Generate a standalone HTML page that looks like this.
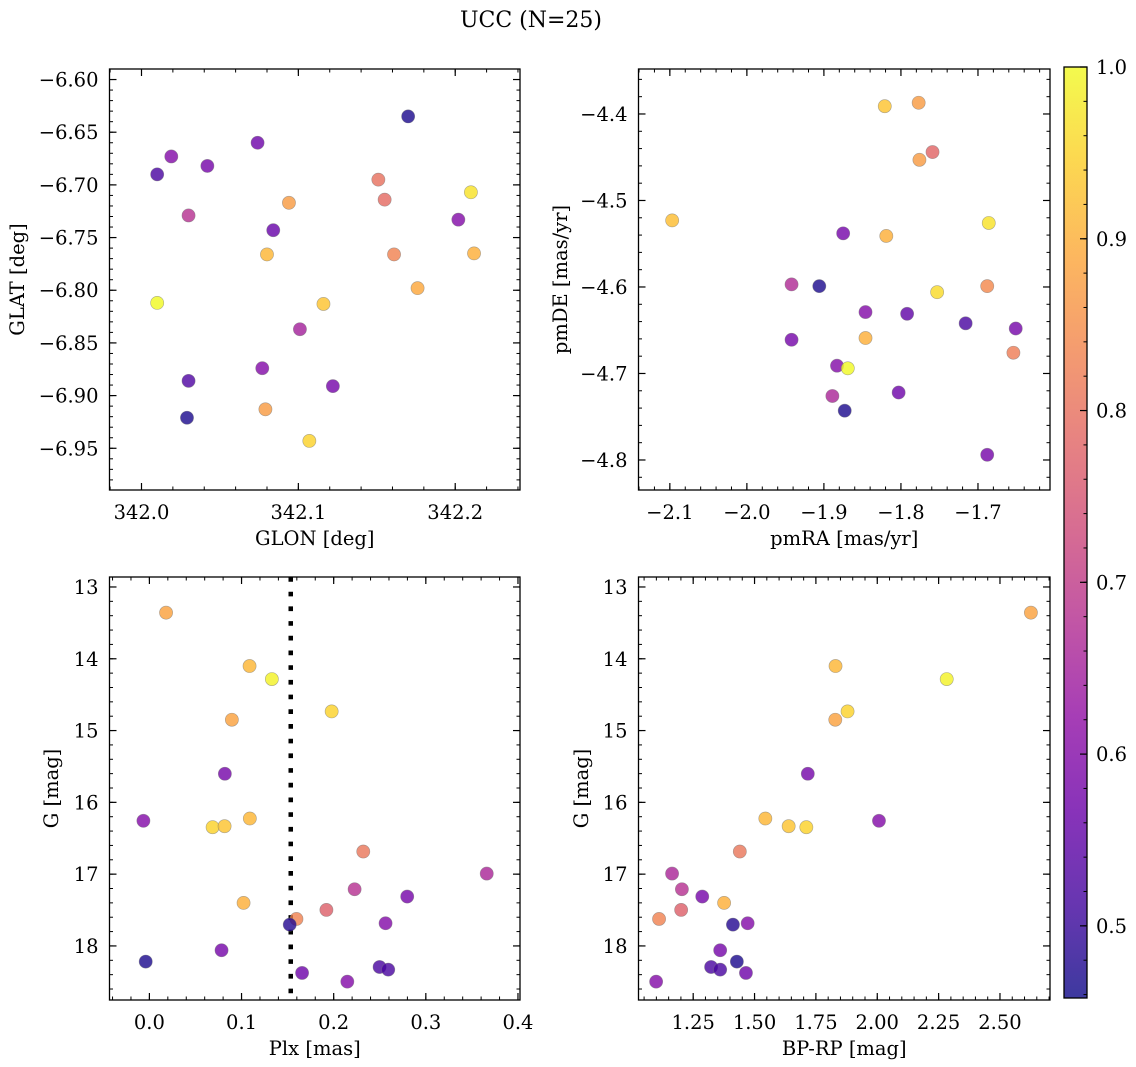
<!DOCTYPE html>
<html><head><meta charset="utf-8">
<style>
html,body{margin:0;padding:0;background:#fff;}
svg{display:block;font-family:"DejaVu Serif","Liberation Serif",serif;}
</style></head>
<body>
<svg id="fig" width="1136" height="1067" viewBox="0 0 1136 1067" xmlns="http://www.w3.org/2000/svg">
<text x="531" y="27" font-size="22" text-anchor="middle">UCC (N=25)</text>
</svg>
<script>
// ---- data: panel 1 (GLON / GLAT) ----
const glon = [342.170,342.074,342.019,342.042,342.010,342.151,342.155,342.210,342.094,342.030,342.084,342.202,342.080,342.161,342.212,342.176,342.010,342.116,342.101,342.077,342.030,342.122,342.079,342.029,342.107];
const glat = [-6.635,-6.660,-6.673,-6.682,-6.690,-6.695,-6.714,-6.707,-6.717,-6.729,-6.743,-6.733,-6.766,-6.766,-6.765,-6.798,-6.812,-6.813,-6.837,-6.874,-6.886,-6.891,-6.913,-6.921,-6.943];
const prob1 = [0.47,0.57,0.60,0.58,0.52,0.80,0.79,0.97,0.87,0.68,0.56,0.60,0.91,0.83,0.90,0.89,1.00,0.93,0.65,0.60,0.53,0.58,0.87,0.47,0.95];
// ---- data: panel 2 (pmRA / pmDE) ----
const pmra = [-1.821,-1.777,-1.759,-1.776,-2.097,-1.686,-1.875,-1.819,-1.942,-1.906,-1.688,-1.753,-1.846,-1.792,-1.716,-1.651,-1.942,-1.846,-1.654,-1.883,-1.869,-1.889,-1.803,-1.873,-1.688];
const pmde = [-4.391,-4.387,-4.444,-4.453,-4.523,-4.526,-4.538,-4.541,-4.597,-4.599,-4.599,-4.606,-4.629,-4.631,-4.642,-4.648,-4.661,-4.659,-4.676,-4.691,-4.694,-4.726,-4.722,-4.743,-4.794];
const prob2 = [0.93,0.87,0.78,0.87,0.92,0.97,0.58,0.90,0.67,0.47,0.84,0.96,0.60,0.55,0.52,0.58,0.58,0.90,0.82,0.60,1.00,0.66,0.57,0.47,0.58];
// ---- data: panels 3 & 4 (Plx, BP-RP, G) ----
const plx = [0.0181,0.1087,0.1329,0.1978,0.0895,0.0819,-0.0065,0.0686,0.0816,0.109,0.2321,0.3661,0.2227,0.2798,0.1022,0.1921,0.1596,0.1523,0.2563,0.0783,-0.004,0.2498,0.2592,0.1657,0.2148];
const bprp = [2.626,1.830,2.283,1.879,1.829,1.717,2.007,1.711,1.639,1.544,1.440,1.164,1.204,1.287,1.376,1.201,1.111,1.412,1.472,1.360,1.428,1.323,1.360,1.465,1.099];
const gmag = [13.358,14.101,14.283,14.733,14.849,15.602,16.257,16.346,16.332,16.225,16.685,16.992,17.21,17.312,17.40,17.498,17.624,17.703,17.684,18.06,18.218,18.293,18.33,18.376,18.497];
const prob3 = [0.88,0.91,0.99,0.95,0.88,0.58,0.60,0.95,0.93,0.91,0.81,0.66,0.68,0.58,0.90,0.77,0.83,0.48,0.60,0.58,0.47,0.52,0.52,0.57,0.60];
const plxLine = 0.1534;
// ---- tick labels ----
const ticks1x = [342.0,342.1,342.2], ticks1y = [-6.60,-6.65,-6.70,-6.75,-6.80,-6.85,-6.90,-6.95];
const ticks2x = [-2.1,-2.0,-1.9,-1.8,-1.7], ticks2y = [-4.4,-4.5,-4.6,-4.7,-4.8];
const ticks3x = [0.0,0.1,0.2,0.3,0.4], ticksG = [13,14,15,16,17,18];
const ticks4x = [1.25,1.50,1.75,2.00,2.25,2.50];
const cbTicks = [0.5,0.6,0.7,0.8,0.9,1.0];
const vmin = 0.458, vmax = 1.0;

const NS = "http://www.w3.org/2000/svg";
const svg = document.getElementById('fig');
const FS = 19.5;
function mk(tag, attrs, parent){ const e=document.createElementNS(NS,tag); for(const k in attrs) e.setAttribute(k,attrs[k]); (parent||svg).appendChild(e); return e; }

const stops = ["#0d0887","#41049d","#6a00a8","#8f0da4","#b12a90","#cc4778","#e16462","#f2844b","#fca636","#fcce25","#f0f921"];
function hex(h){return [parseInt(h.substr(1,2),16),parseInt(h.substr(3,2),16),parseInt(h.substr(5,2),16)];}
function plasma(v){
  let t=(v-vmin)/(vmax-vmin); t=Math.max(0,Math.min(1,t));
  const f=t*10, i=Math.min(9,Math.floor(f)), r=f-i;
  const a=hex(stops[i]), b=hex(stops[i+1]);
  const c=a.map((x,k)=>Math.round(x+(b[k]-x)*r));
  return `rgb(${c[0]},${c[1]},${c[2]})`;
}
function fmt(v,d){ const s=Math.abs(v).toFixed(d); return (v<0?"\u2212":"")+s; }

function panel(o){
  const {name,x0,x1,y0,y1,xl,yl,xt,yt,xd,yd,xminor,yminor,xs,ys,ps,xlabel,ylabel,ylabX,invY} = o;
  const g = mk('g',{});
  
  
  const sx = v => x0 + (v-xl[0])/(xl[1]-xl[0])*(x1-x0);
  const sy = v => invY ? y0 + (v-yl[0])/(yl[1]-yl[0])*(y1-y0) : y1 - (v-yl[0])/(yl[1]-yl[0])*(y1-y0);
  const eps=1e-9;
  function rng(a,b,s){const out=[];const st=Math.ceil((Math.min(a,b))/s-eps);for(let k=st;k*s<=Math.max(a,b)+eps;k++)out.push(k*s);return out;}
  rng(xl[0],xl[1],xminor).forEach(v=>{const X=sx(v); mk('line',{x1:X,y1:y1,x2:X,y2:y1-3.5,stroke:'#000','stroke-width':1},g); mk('line',{x1:X,y1:y0,x2:X,y2:y0+3.5,stroke:'#000','stroke-width':1},g);});
  rng(yl[0],yl[1],yminor).forEach(v=>{const Y=sy(v); mk('line',{x1:x0,y1:Y,x2:x0+3.5,y2:Y,stroke:'#000','stroke-width':1},g); mk('line',{x1:x1,y1:Y,x2:x1-3.5,y2:Y,stroke:'#000','stroke-width':1},g);});
  xt.forEach(v=>{const X=sx(v);
    mk('line',{x1:X,y1:y1,x2:X,y2:y1-7,stroke:'#000','stroke-width':1.2},g); mk('line',{x1:X,y1:y0,x2:X,y2:y0+7,stroke:'#000','stroke-width':1.2},g);
    const t=mk('text',{x:X,y:y1+29,'font-size':FS,'text-anchor':'middle'},g); t.textContent=fmt(v,xd);
    
    
  });
  yt.forEach(v=>{const Y=sy(v);
    mk('line',{x1:x0,y1:Y,x2:x0+7,y2:Y,stroke:'#000','stroke-width':1.2},g); mk('line',{x1:x1,y1:Y,x2:x1-7,y2:Y,stroke:'#000','stroke-width':1.2},g);
    const t=mk('text',{x:x0-11,y:Y+7,'font-size':FS,'text-anchor':'end'},g); t.textContent=fmt(v,yd);
    
    
  });
  if(o.vline!==undefined){
    const X=sx(o.vline);
    const l=mk('line',{x1:X,y1:y0,x2:X,y2:y1,stroke:'#000','stroke-width':4.5,'stroke-dasharray':'4.7 10'},g);
    
    
  }
  xs.forEach((v,i)=>{
    const c=mk('circle',{cx:sx(v),cy:sy(ys[i]),r:6.6,fill:plasma(ps[i]),'fill-opacity':0.8,stroke:'#777','stroke-opacity':0.6,'stroke-width':0.6},g);
    
    
  });
  const fr=mk('rect',{x:x0,y:y0,width:x1-x0,height:y1-y0,fill:'none',stroke:'#000','stroke-width':1.3},g);
  
  
  const xlab=mk('text',{x:(x0+x1)/2,y:y1+55,'font-size':FS,'text-anchor':'middle'},g); xlab.textContent=xlabel;
  
  
  const yc=(y0+y1)/2;
  const ylab=mk('text',{x:ylabX,y:yc,'font-size':FS,'text-anchor':'middle',transform:`rotate(-90 ${ylabX} ${yc})`},g); ylab.textContent=ylabel;
  
  
}

panel({name:'glon-glat-panel',x0:109.5,x1:520,y0:69,y1:490,xl:[341.9796,342.2413],yl:[-6.9896,-6.590],xt:ticks1x,yt:ticks1y,xd:1,yd:2,xminor:0.02,yminor:0.01,xs:glon,ys:glat,ps:prob1,xlabel:'GLON [deg]',ylabel:'GLAT [deg]',ylabX:24});
panel({name:'pm-panel',x0:638.5,x1:1050,y0:69,y1:490,xl:[-2.1407,-1.6065],yl:[-4.8347,-4.348],xt:ticks2x,yt:ticks2y,xd:1,yd:1,xminor:0.02,yminor:0.02,xs:pmra,ys:pmde,ps:prob2,xlabel:'pmRA [mas/yr]',ylabel:'pmDE [mas/yr]',ylabX:567});
panel({name:'plx-g-panel',x0:109.5,x1:520,y0:577,y1:1000,xl:[-0.0433,0.4022],yl:[12.861,18.753],invY:true,xt:ticks3x,yt:ticksG,xd:1,yd:0,xminor:0.02,yminor:0.2,xs:plx,ys:gmag,ps:prob3,xlabel:'Plx [mas]',ylabel:'G [mag]',ylabX:58,vline:plxLine});
panel({name:'cmd-panel',x0:638.5,x1:1050,y0:577,y1:1000,xl:[1.0272,2.7038],yl:[12.861,18.753],invY:true,xt:ticks4x,yt:ticksG,xd:2,yd:0,xminor:0.05,yminor:0.2,xs:bprp,ys:gmag,ps:prob3,xlabel:'BP-RP [mag]',ylabel:'G [mag]',ylabX:588});

// colorbar
(function(){
  const cx0=1064,cx1=1087,cy0=67,cy1=998;
  const g=mk('g',{});
  
  
  const defs=mk('defs',{},g);
  const lg=mk('linearGradient',{id:'cbg',x1:0,y1:1,x2:0,y2:0},defs);
  stops.forEach((s,i)=>mk('stop',{offset:i/10,'stop-color':s},lg));
  mk('rect',{x:cx0,y:cy0,width:cx1-cx0,height:cy1-cy0,fill:'url(#cbg)','fill-opacity':0.8},g);
  const sy=v=>cy1-(v-vmin)/(vmax-vmin)*(cy1-cy0);
  for(let v=0.46;v<=1.0001;v+=0.02){const Y=sy(v); mk('line',{x1:cx1,y1:Y,x2:cx1-3.5,y2:Y,stroke:'#000','stroke-width':1},g);}
  cbTicks.forEach(v=>{const Y=sy(v);
    mk('line',{x1:cx1,y1:Y,x2:cx1-7,y2:Y,stroke:'#000','stroke-width':1.2},g);
    const t=mk('text',{x:cx1+9,y:Y+7,'font-size':FS},g); t.textContent=v.toFixed(1);
    
    
  });
  mk('rect',{x:cx0,y:cy0,width:cx1-cx0,height:cy1-cy0,fill:'none',stroke:'#000','stroke-width':1.3},g);
})();
</script>
</body></html>
